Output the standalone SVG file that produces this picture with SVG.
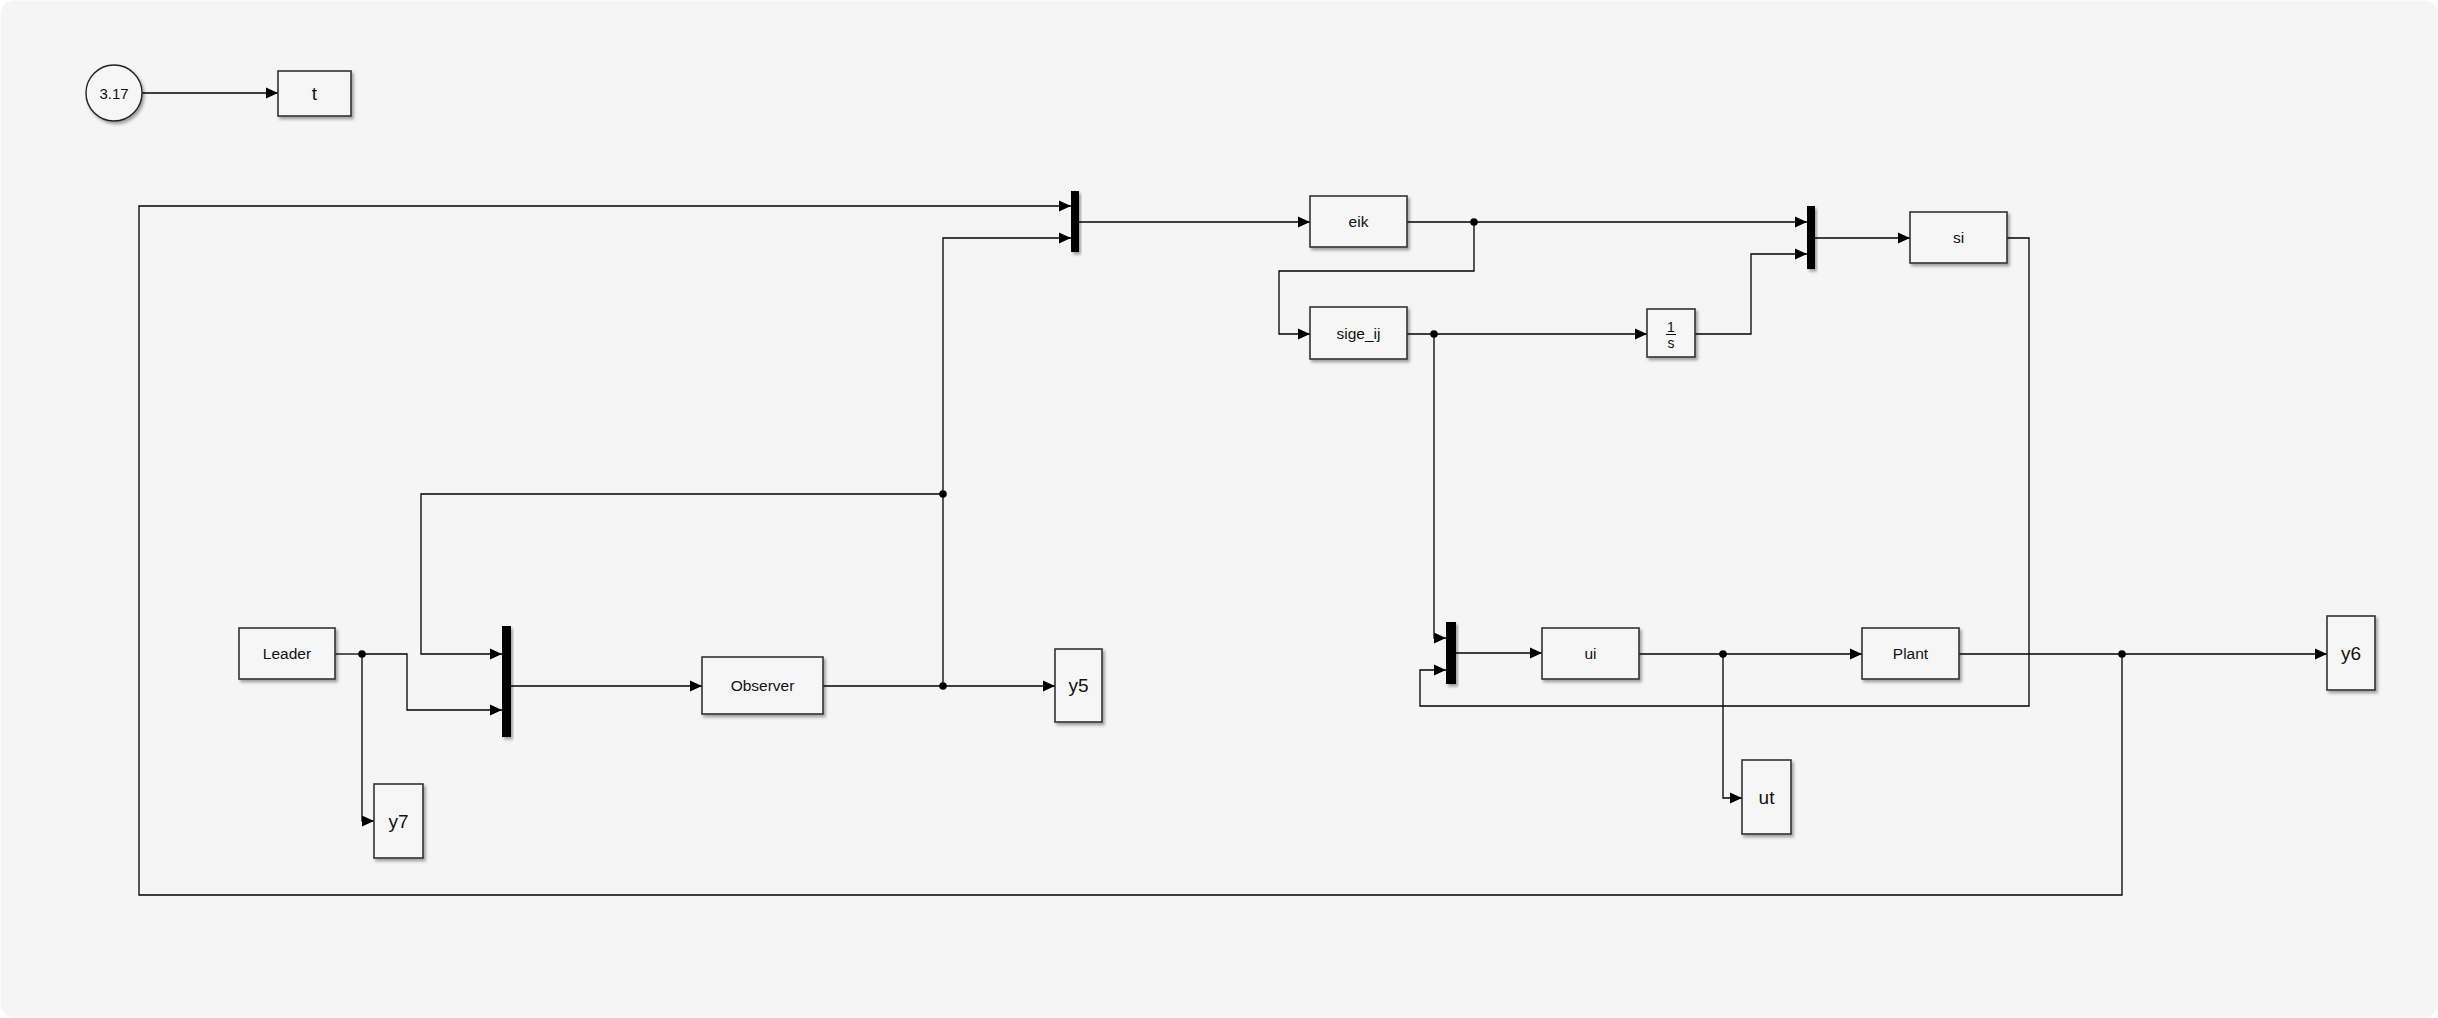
<svg xmlns="http://www.w3.org/2000/svg" width="2438" height="1018" viewBox="0 0 2438 1018">
<defs>
<filter id="sh" x="-20%" y="-20%" width="150%" height="150%">
<feDropShadow dx="2" dy="2.5" stdDeviation="1.5" flood-color="#000" flood-opacity="0.35"/>
</filter>
<marker id="ar" markerUnits="userSpaceOnUse" markerWidth="13" markerHeight="12" refX="12" refY="6" orient="auto">
<path d="M0,0.5 L12,6 L0,11.5 z" fill="#000"/>
</marker>
</defs>
<style>
.blk{fill:#f6f6f6;stroke:#333;stroke-width:1.6;filter:url(#sh)}
.mux{fill:#000;filter:url(#sh)}
.lbl{font-family:"Liberation Sans",Arial,sans-serif;font-size:15.5px;fill:#111;text-anchor:middle}
.big{font-size:19px}
.w{fill:none;stroke:#000;stroke-width:1.3}
.a{marker-end:url(#ar)}
.dot{fill:#000}
</style>
<rect x="0" y="0" width="2438" height="1018" fill="#ffffff"/>
<rect x="0.5" y="0.5" width="2437" height="1017" rx="14" fill="#f5f5f5"/>

<g id="connectors">
<path class="w a" d="M142,93 H278"/>
<path class="w" d="M335,654 H362"/>
<path class="w a" d="M362,654 H407 V710 H502"/>
<path class="w a" d="M362,654 V821 H374"/>
<path class="w a" d="M511,686 H702"/>
<path class="w a" d="M823,686 H1055"/>
<path class="w a" d="M943,686 V238 H1071"/>
<path class="w a" d="M943,494 H421 V654 H502"/>
<path class="w a" d="M2122,654 V895 H139 V206 H1071"/>
<path class="w a" d="M1079,222 H1310"/>
<path class="w a" d="M1407,222 H1807"/>
<path class="w a" d="M1474,222 V271 H1279 V334 H1310"/>
<path class="w a" d="M1407,334 H1647"/>
<path class="w a" d="M1434,334 V638 H1446"/>
<path class="w a" d="M1695,334 H1751 V254 H1807"/>
<path class="w a" d="M1815,238 H1910"/>
<path class="w a" d="M2007,238 H2029 V706 H1420 V670 H1446"/>
<path class="w a" d="M1456,653 H1542"/>
<path class="w a" d="M1639,654 H1862"/>
<path class="w a" d="M1723,654 V798 H1742"/>
<path class="w a" d="M1959,654 H2327"/>
<circle class="dot" cx="362" cy="654" r="3.8"/>
<circle class="dot" cx="943" cy="686" r="3.8"/>
<circle class="dot" cx="943" cy="494" r="3.8"/>
<circle class="dot" cx="1474" cy="222" r="3.8"/>
<circle class="dot" cx="1434" cy="334" r="3.8"/>
<circle class="dot" cx="1723" cy="654" r="3.8"/>
<circle class="dot" cx="2122" cy="654" r="3.8"/>
</g>

<g id="const317">
<circle cx="114" cy="93" r="28" fill="#f6f6f6" stroke="#222" stroke-width="1.4" filter="url(#sh)"/>
<text class="lbl" x="114" y="98.5" style="font-size:15px">3.17</text>
</g>
<g id="t">
<rect class="blk" x="278" y="71" width="73" height="45"/>
<text class="lbl big" x="314.5" y="100">t</text>
</g>
<g id="Leader">
<rect class="blk" x="239" y="628" width="96" height="51"/>
<text class="lbl" x="287" y="659">Leader</text>
</g>
<g id="y7">
<rect class="blk" x="374" y="784" width="49" height="74"/>
<text class="lbl big" x="398.5" y="828">y7</text>
</g>
<g id="Mux3">
<rect class="mux" x="502" y="626" width="9" height="111"/>
</g>
<g id="Observer">
<rect class="blk" x="702" y="657" width="121" height="57"/>
<text class="lbl" x="762.5" y="691">Observer</text>
</g>
<g id="y5">
<rect class="blk" x="1055" y="649" width="47" height="73"/>
<text class="lbl big" x="1078.5" y="692">y5</text>
</g>
<g id="Mux1">
<rect class="mux" x="1071" y="191" width="8" height="61"/>
</g>
<g id="eik">
<rect class="blk" x="1310" y="196" width="97" height="51"/>
<text class="lbl" x="1358.5" y="227">eik</text>
</g>
<g id="sige_ij">
<rect class="blk" x="1310" y="307" width="97" height="52"/>
<text class="lbl" x="1358.5" y="338.5">sige_ij</text>
</g>
<g id="Integrator">
<rect class="blk" x="1647" y="309" width="48" height="48"/>
<text class="lbl" x="1671" y="332" style="font-size:14px">1</text>
<line x1="1666" y1="334.5" x2="1676" y2="334.5" stroke="#111" stroke-width="1"/>
<text class="lbl" x="1671" y="348" style="font-size:14px">s</text>
</g>
<g id="Mux2">
<rect class="mux" x="1807" y="206" width="8" height="63"/>
</g>
<g id="si">
<rect class="blk" x="1910" y="212" width="97" height="51"/>
<text class="lbl" x="1958.5" y="243">si</text>
</g>
<g id="Mux4">
<rect class="mux" x="1446" y="622" width="10" height="62"/>
</g>
<g id="ui">
<rect class="blk" x="1542" y="628" width="97" height="51"/>
<text class="lbl" x="1590.5" y="659">ui</text>
</g>
<g id="Plant">
<rect class="blk" x="1862" y="628" width="97" height="51"/>
<text class="lbl" x="1910.5" y="659">Plant</text>
</g>
<g id="ut">
<rect class="blk" x="1742" y="760" width="49" height="74"/>
<text class="lbl big" x="1766.5" y="804">ut</text>
</g>
<g id="y6">
<rect class="blk" x="2327" y="616" width="48" height="74"/>
<text class="lbl big" x="2351" y="660">y6</text>
</g>
</svg>
